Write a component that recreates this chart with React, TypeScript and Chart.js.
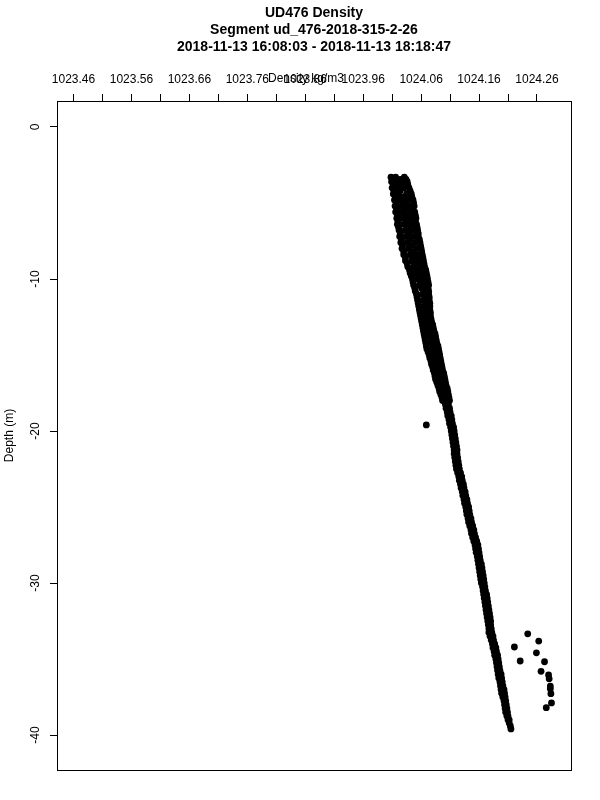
import React, { useEffect, useRef } from "react";
import { Chart, registerables } from "chart.js";

Chart.register(...registerables);

const titleLines = [
  "UD476 Density",
  "Segment ud_476-2018-315-2-26",
  "2018-11-13 16:08:03 - 2018-11-13 18:18:47",
];
const xAxisTitle = "Density kg/m3";
const yAxisTitle = "Depth (m)";

const xTickValues = [
  1023.46, 1023.51, 1023.56, 1023.61, 1023.66, 1023.71, 1023.76, 1023.81, 1023.86,
  1023.91, 1023.96, 1024.01, 1024.06, 1024.11, 1024.16, 1024.21, 1024.26,
];
const xTickLabels = [
  "1023.46", "", "1023.56", "", "1023.66", "", "1023.76", "", "1023.86",
  "", "1023.96", "", "1024.06", "", "1024.16", "", "1024.26",
];
const yTickValues = [-40, -30, -20, -10, 0];
const yTickLabels = ["-40", "-30", "-20", "-10", "0"];

const xRange = [1023.4315, 1024.3187];
const yRange = [-42.3, 1.71];

// rows: [depth (m), density (kg/m3), density, ...]
const upperRows: number[][] = [
  [-3.3, 1024.008, 1024.016, 1024.031],
  [-3.45, 1024.011, 1024.024, 1024.034],
  [-3.6, 1024.009, 1024.019, 1024.029, 1024.036],
  [-3.8, 1024.012, 1024.026, 1024.037],
  [-4.0, 1024.01, 1024.018, 1024.031, 1024.039],
  [-4.2, 1024.013, 1024.024, 1024.041],
  [-4.4, 1024.012, 1024.021, 1024.035, 1024.043],
  [-4.6, 1024.016, 1024.029, 1024.044],
  [-4.8, 1024.014, 1024.024, 1024.037, 1024.046],
  [-5.0, 1024.017, 1024.031, 1024.047],
  [-5.2, 1024.015, 1024.026, 1024.039, 1024.048],
  [-5.4, 1024.018, 1024.033, 1024.046],
  [-5.6, 1024.016, 1024.027, 1024.041, 1024.049],
  [-5.8, 1024.019, 1024.034, 1024.05],
  [-6.0, 1024.018, 1024.028, 1024.043, 1024.051],
  [-6.2, 1024.02, 1024.036, 1024.05],
  [-6.4, 1024.019, 1024.03, 1024.044, 1024.052],
  [-6.6, 1024.021, 1024.038, 1024.053],
  [-6.8, 1024.022, 1024.032, 1024.046, 1024.054],
  [-7.0, 1024.024, 1024.039, 1024.055],
  [-7.2, 1024.023, 1024.034, 1024.048, 1024.055],
  [-7.4, 1024.026, 1024.041, 1024.057],
  [-7.6, 1024.025, 1024.036, 1024.05, 1024.058],
  [-7.8, 1024.028, 1024.043, 1024.059],
  [-8.0, 1024.027, 1024.038, 1024.052, 1024.06],
  [-8.2, 1024.03, 1024.046, 1024.061],
  [-8.4, 1024.03, 1024.041, 1024.054, 1024.062],
  [-8.6, 1024.033, 1024.048, 1024.063],
  [-8.8, 1024.033, 1024.044, 1024.057, 1024.064],
  [-9.0, 1024.036, 1024.05, 1024.065],
  [-9.2, 1024.037, 1024.047, 1024.059, 1024.066],
  [-9.4, 1024.04, 1024.053, 1024.068],
  [-9.6, 1024.041, 1024.05, 1024.062, 1024.069],
  [-9.8, 1024.043, 1024.056, 1024.07],
  [-10.0, 1024.045, 1024.054, 1024.065, 1024.071],
  [-10.2, 1024.046, 1024.059, 1024.072],
  [-10.4, 1024.047, 1024.057, 1024.067, 1024.073],
];

const middleRows: number[][] = [
  [-10.6, 1024.049, 1024.061, 1024.072],
  [-10.8, 1024.05, 1024.066, 1024.073],
  [-11.0, 1024.052, 1024.062, 1024.073],
  [-11.2, 1024.053, 1024.067, 1024.074],
  [-11.4, 1024.054, 1024.063, 1024.074],
  [-11.6, 1024.055, 1024.068, 1024.075],
  [-11.8, 1024.056, 1024.065, 1024.075],
  [-12.0, 1024.057, 1024.069, 1024.075],
  [-12.2, 1024.058, 1024.066, 1024.076],
  [-12.4, 1024.059, 1024.07, 1024.076],
  [-12.6, 1024.06, 1024.068, 1024.077],
  [-12.8, 1024.061, 1024.072, 1024.078],
  [-13.0, 1024.062, 1024.07, 1024.08],
  [-13.2, 1024.063, 1024.074, 1024.081],
  [-13.4, 1024.064, 1024.072, 1024.082],
  [-13.6, 1024.065, 1024.076, 1024.084],
  [-13.8, 1024.066, 1024.074, 1024.085],
  [-14.0, 1024.067, 1024.079, 1024.086],
  [-14.2, 1024.068, 1024.077, 1024.087],
  [-14.4, 1024.069, 1024.081, 1024.089],
  [-14.6, 1024.07, 1024.079, 1024.09],
  [-14.8, 1024.072, 1024.083, 1024.091],
  [-15.0, 1024.074, 1024.082, 1024.092],
  [-15.2, 1024.075, 1024.086, 1024.093],
  [-15.4, 1024.077, 1024.085, 1024.094],
  [-15.6, 1024.078, 1024.089, 1024.095],
  [-15.8, 1024.08, 1024.088, 1024.096],
  [-16.0, 1024.081, 1024.091, 1024.097],
  [-16.2, 1024.083, 1024.09, 1024.099],
  [-16.4, 1024.084, 1024.094, 1024.1],
  [-16.6, 1024.085, 1024.093, 1024.101],
  [-16.8, 1024.087, 1024.097, 1024.102],
  [-17.0, 1024.089, 1024.096, 1024.103],
  [-17.2, 1024.091, 1024.1, 1024.105],
  [-17.4, 1024.092, 1024.099, 1024.106],
  [-17.6, 1024.094, 1024.103, 1024.107],
  [-17.8, 1024.096, 1024.102, 1024.108],
  [-18.0, 1024.097, 1024.103, 1024.109],
];

const lowerRows: number[][] = [
  [-18.25, 1024.102, 1024.107],
  [-18.5, 1024.103, 1024.109],
  [-18.75, 1024.105, 1024.11],
  [-19.0, 1024.106, 1024.112],
  [-19.25, 1024.108, 1024.113],
  [-19.5, 1024.109, 1024.114],
  [-19.75, 1024.111, 1024.116],
  [-20.0, 1024.112, 1024.117],
  [-20.25, 1024.113, 1024.118],
  [-20.5, 1024.114, 1024.119],
  [-20.75, 1024.115, 1024.12],
  [-21.0, 1024.116, 1024.121],
  [-21.25, 1024.117, 1024.122],
  [-21.5, 1024.117, 1024.122],
  [-21.75, 1024.118, 1024.123],
  [-22.0, 1024.119, 1024.124],
  [-22.25, 1024.12, 1024.125],
  [-22.5, 1024.121, 1024.126],
  [-22.75, 1024.123, 1024.128],
  [-23.0, 1024.125, 1024.13],
  [-23.25, 1024.126, 1024.131],
  [-23.5, 1024.128, 1024.133],
  [-23.75, 1024.129, 1024.134],
  [-24.0, 1024.131, 1024.136],
  [-24.25, 1024.132, 1024.137],
  [-24.5, 1024.134, 1024.139],
  [-24.75, 1024.135, 1024.14],
  [-25.0, 1024.137, 1024.142],
  [-25.25, 1024.138, 1024.143],
  [-25.5, 1024.139, 1024.144],
  [-25.75, 1024.141, 1024.146],
  [-26.0, 1024.142, 1024.147],
  [-26.25, 1024.144, 1024.149],
  [-26.5, 1024.146, 1024.151],
  [-26.75, 1024.147, 1024.152],
  [-27.0, 1024.149, 1024.154],
  [-27.25, 1024.151, 1024.156],
  [-27.5, 1024.153, 1024.158],
  [-27.75, 1024.154, 1024.159],
  [-28.0, 1024.155, 1024.16],
  [-28.25, 1024.157, 1024.161],
  [-28.5, 1024.158, 1024.162],
  [-28.75, 1024.159, 1024.164],
  [-29.0, 1024.16, 1024.165],
  [-29.25, 1024.161, 1024.166],
  [-29.5, 1024.162, 1024.167],
  [-29.75, 1024.163, 1024.168],
  [-30.0, 1024.164, 1024.169],
  [-30.25, 1024.166, 1024.17],
  [-30.5, 1024.167, 1024.171],
  [-30.75, 1024.168, 1024.173],
  [-31.0, 1024.169, 1024.174],
  [-31.25, 1024.17, 1024.175],
  [-31.5, 1024.171, 1024.176],
  [-31.75, 1024.172, 1024.177],
  [-32.0, 1024.173, 1024.178],
  [-32.25, 1024.174, 1024.179],
  [-32.5, 1024.175, 1024.18],
  [-32.75, 1024.176, 1024.18],
  [-33.0, 1024.177, 1024.181],
  [-33.25, 1024.177, 1024.182],
  [-33.5, 1024.179, 1024.184],
  [-33.75, 1024.181, 1024.185],
  [-34.0, 1024.183, 1024.187],
  [-34.25, 1024.184, 1024.189],
  [-34.5, 1024.186, 1024.19],
  [-34.75, 1024.187, 1024.192],
  [-35.0, 1024.189, 1024.193],
  [-35.25, 1024.19, 1024.194],
  [-35.5, 1024.191, 1024.195],
  [-35.75, 1024.192, 1024.196],
  [-36.0, 1024.193, 1024.198],
  [-36.25, 1024.194, 1024.199],
  [-36.5, 1024.196, 1024.2],
  [-36.75, 1024.197, 1024.201],
  [-37.0, 1024.198, 1024.203],
  [-37.25, 1024.199, 1024.204],
  [-37.5, 1024.201, 1024.205],
  [-37.75, 1024.203, 1024.206],
  [-38.0, 1024.204, 1024.207],
  [-38.25, 1024.205, 1024.208],
  [-38.5, 1024.206, 1024.209],
  [-38.75, 1024.208, 1024.21],
  [-39.0, 1024.21, 1024.212],
  [-39.2, 1024.212],
  [-39.4, 1024.214],
  [-39.6, 1024.215],
];

const outlierRows: number[][] = [
  [-19.6, 1024.069],
  [-33.34, 1024.244],
  [-33.82, 1024.263],
  [-34.21, 1024.221],
  [-34.59, 1024.259],
  [-35.13, 1024.231],
  [-35.18, 1024.273],
  [-35.81, 1024.267],
  [-36.05, 1024.28],
  [-36.3, 1024.281],
  [-36.78, 1024.283],
  [-36.95, 1024.283],
  [-37.28, 1024.284],
  [-37.89, 1024.285],
  [-38.2, 1024.276],
];

const FONT = "'Liberation Sans', Arial, Helvetica, sans-serif";

function rowsToPoints(rows: number[][]) {
  const pts: { x: number; y: number }[] = [];
  rows.forEach((row) => {
    const depth = row[0];
    row.slice(1).forEach((d) => pts.push({ x: d, y: depth }));
  });
  return pts;
}

export default function App() {
  const canvasRef = useRef<HTMLCanvasElement | null>(null);

  useEffect(() => {
    if (!canvasRef.current) return;
    const points = [
      ...rowsToPoints(upperRows),
      ...rowsToPoints(middleRows),
      ...rowsToPoints(lowerRows),
      ...rowsToPoints(outlierRows),
    ];

    const framePlugin = {
      id: "frameAndTitle",
      beforeDraw(chart: any) {
        const { ctx } = chart;
        ctx.save();
        ctx.fillStyle = "#ffffff";
        ctx.fillRect(0, 0, chart.width, chart.height);
        ctx.restore();
      },
      afterDraw(chart: any) {
        const { ctx, chartArea: a } = chart;
        ctx.save();
        ctx.strokeStyle = "#000000";
        ctx.lineWidth = 1;
        ctx.strokeRect(a.left + 0.5, a.top + 0.5, a.right - a.left, a.bottom - a.top);
        ctx.fillStyle = "#000000";
        ctx.font = "12px " + FONT;
        ctx.textAlign = "center";
        ctx.textBaseline = "middle";
        ctx.fillText(xAxisTitle, (a.left + a.right) / 2 - 8, 79);
        ctx.restore();
      },
    };

    const chart = new Chart(canvasRef.current, {
      type: "scatter",
      data: {
        datasets: [
          {
            data: points,
            backgroundColor: "#000000",
            borderWidth: 0,
            pointRadius: 3.4,
            pointHoverRadius: 3.4,
          },
        ],
      },
      options: {
        animation: false,
        responsive: false,
        maintainAspectRatio: false,
        devicePixelRatio: 1,
        layout: { padding: { left: 0, right: 29, top: 0, bottom: 30 } },
        plugins: {
          legend: { display: false },
          tooltip: { enabled: false },
          title: {
            display: true,
            text: titleLines,
            fullSize: false,
            color: "#000000",
            font: { family: FONT, size: 14, weight: "bold", lineHeight: 17 / 14 },
            padding: { top: 5, bottom: 0 },
          },
        },
        scales: {
          x: {
            type: "linear",
            position: "top",
            min: xRange[0],
            max: xRange[1],
            afterBuildTicks: (scale: any) => {
              scale.ticks = xTickValues.map((v) => ({ value: v }));
            },
            afterFit: (scale: any) => {
              scale.height = 45;
            },
            ticks: {
              autoSkip: false,
              maxRotation: 0,
              minRotation: 0,
              padding: 7,
              color: "#000000",
              font: { family: FONT, size: 12 },
              callback: (_v: any, i: number) => xTickLabels[i],
            },
            grid: {
              drawOnChartArea: false,
              drawTicks: true,
              tickLength: 7,
              color: "#000000",
            },
            border: { display: true, color: "#000000" },
          },
          y: {
            type: "linear",
            position: "left",
            min: yRange[0],
            max: yRange[1],
            afterBuildTicks: (scale: any) => {
              scale.ticks = yTickValues.map((v) => ({ value: v }));
            },
            afterFit: (scale: any) => {
              scale.width = 57;
            },
            ticks: {
              autoSkip: false,
              minRotation: 90,
              maxRotation: 90,
              crossAlign: "center",
              padding: 6,
              color: "#000000",
              font: { family: FONT, size: 12 },
              callback: (_v: any, i: number) => yTickLabels[i],
            },
            grid: {
              drawOnChartArea: false,
              drawTicks: true,
              tickLength: 7,
              color: "#000000",
            },
            border: { display: true, color: "#000000" },
            title: {
              display: true,
              text: yAxisTitle,
              color: "#000000",
              font: { family: FONT, size: 12 },
              padding: { top: 2, bottom: 0 },
            },
          },
        },
      } as any,
      plugins: [framePlugin],
    });

    return () => chart.destroy();
  }, []);

  return (
    <div style={{ position: "absolute", left: 0, top: 0, width: 600, height: 800 }}>
      <canvas ref={canvasRef} width={600} height={800} style={{ display: "block" }} />
    </div>
  );
}
